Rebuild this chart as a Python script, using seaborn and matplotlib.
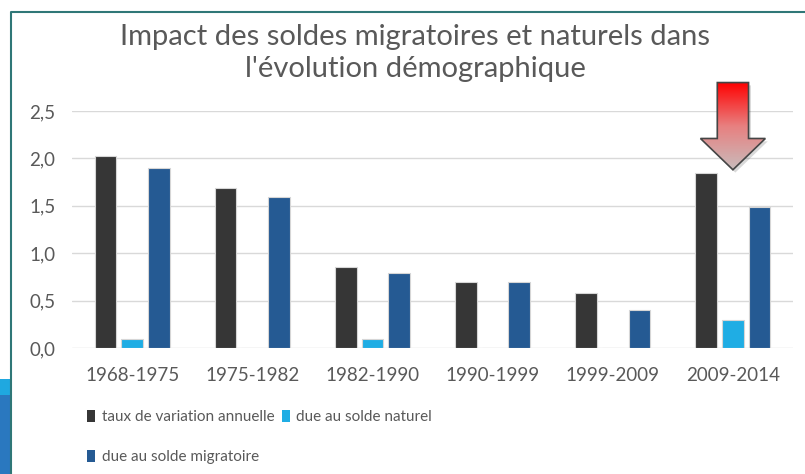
import numpy as np
import pandas as pd
import seaborn as sns
import matplotlib.pyplot as plt
from matplotlib.patches import Patch, Polygon, Rectangle
from matplotlib.lines import Line2D
from matplotlib.colors import LinearSegmentedColormap
from matplotlib.ticker import FuncFormatter

# data
periodes = ["1968-1975", "1975-1982", "1982-1990", "1990-1999", "1999-2009", "2009-2014"]
taux = [2.03, 1.69, 0.85, 0.70, 0.58, 1.85]
naturel = [0.10, 0.0, 0.10, 0.0, 0.0, 0.30]
migratoire = [1.90, 1.59, 0.79, 0.70, 0.40, 1.49]

series = ["taux de variation annuelle", "due au solde naturel", "due au solde migratoire"]
colors = ["#363636", "#1fade4", "#255a93"]
yticks = [0.0, 0.5, 1.0, 1.5, 2.0, 2.5]
title = "Impact des soldes migratoires et naturels dans\nl'évolution démographique"

df = pd.DataFrame({
    "periode": periodes * 3,
    "serie": [series[0]] * 6 + [series[1]] * 6 + [series[2]] * 6,
    "valeur": taux + naturel + migratoire,
})

sns.set_style("white")
plt.rcParams["font.family"] = ["Lato", "DejaVu Sans"]
txt = "#595959"

fig = plt.figure(figsize=(8.05, 4.74), dpi=100)
ax = fig.add_axes([72 / 805, 1 - 348 / 474, (793 - 72) / 805, (348 - 111) / 474])

sns.barplot(
    data=df, x="periode", y="valeur", hue="serie",
    order=periodes, hue_order=series, palette=colors, saturation=1,
    width=0.665, gap=0.19, edgecolor="#d6d6d6", linewidth=0.8,
    legend=False, ax=ax, zorder=3,
)

ax.set_xlim(-0.5, len(periodes) - 0.5)
ax.set_ylim(0, 2.5)
ax.set_yticks(yticks)
ax.yaxis.set_major_formatter(FuncFormatter(lambda v, p: f"{v:.1f}".replace(".", ",")))
ax.yaxis.grid(True, color="#d9d9d9", linewidth=1)
ax.set_axisbelow(True)
for s in ax.spines.values():
    s.set_visible(False)
ax.tick_params(axis="both", length=0, colors=txt, labelsize=13.5)
ax.tick_params(axis="y", pad=12)
ax.tick_params(axis="x", pad=14)
ax.set_xlabel("")
ax.set_ylabel("")

# red gradient arrow above the last period
xc = len(periodes) - 1
pts = [(xc - 0.13, 2.80), (xc + 0.13, 2.80), (xc + 0.13, 2.21), (xc + 0.27, 2.21),
       (xc, 1.88), (xc - 0.27, 2.21), (xc - 0.13, 2.21)]
shadow = Polygon([(x + 0.02, y - 0.03) for x, y in pts], closed=True, facecolor="#000000",
                 alpha=0.15, edgecolor="none", clip_on=False, zorder=4)
ax.add_patch(shadow)
arrow = Polygon(pts, closed=True, facecolor="none", edgecolor="#454545", linewidth=1.2,
                clip_on=False, zorder=6)
ax.add_patch(arrow)
cmap = LinearSegmentedColormap.from_list("arr", ["#ff0000", "#e88080", "#c8bcbc"])
im = ax.imshow(np.linspace(0, 1, 256).reshape(-1, 1), cmap=cmap, aspect="auto",
               extent=[xc - 0.27, xc + 0.27, 1.88, 2.80], origin="upper", zorder=5)
im.set_clip_path(arrow)
im.set_clip_box(fig.bbox)
ax.set_xlim(-0.5, len(periodes) - 0.5)
ax.set_ylim(0, 2.5)

# title
fig.text(415 / 805, 1 - 53 / 474, title, ha="center", va="center", fontsize=21,
         color=txt, linespacing=1.3)

# legend (taux, naturel on first row; migratoire on second)
handles = [Patch(facecolor=c, edgecolor="none") for c in colors]
order = [0, 2, 1]
fig.legend([handles[i] for i in order], [series[i] for i in order],
           loc="upper left", bbox_to_anchor=(87 / 805, 1 - 410 / 474), ncol=2,
           frameon=False, fontsize=11, labelcolor=txt, handlelength=0.55, handleheight=0.8,
           handletextpad=0.4, columnspacing=0.5, labelspacing=1.7,
           borderpad=0, borderaxespad=0)

# frame of the slide box and left edge decoration
fig.add_artist(Line2D([11 / 805, 11 / 805, 1], [0, 1 - 12 / 474, 1 - 12 / 474],
                      transform=fig.transFigure, color="#2f7777", linewidth=1.5))
fig.patches.append(Rectangle((0, 0), 10 / 805, (474 - 395) / 474, transform=fig.transFigure,
                             facecolor="#2a78bf", edgecolor="none"))
fig.patches.append(Rectangle((0, (474 - 395) / 474), 10 / 805, 16 / 474, transform=fig.transFigure,
                             facecolor="#1fa8e0", edgecolor="none"))

plt.savefig("out.png", dpi=100)
